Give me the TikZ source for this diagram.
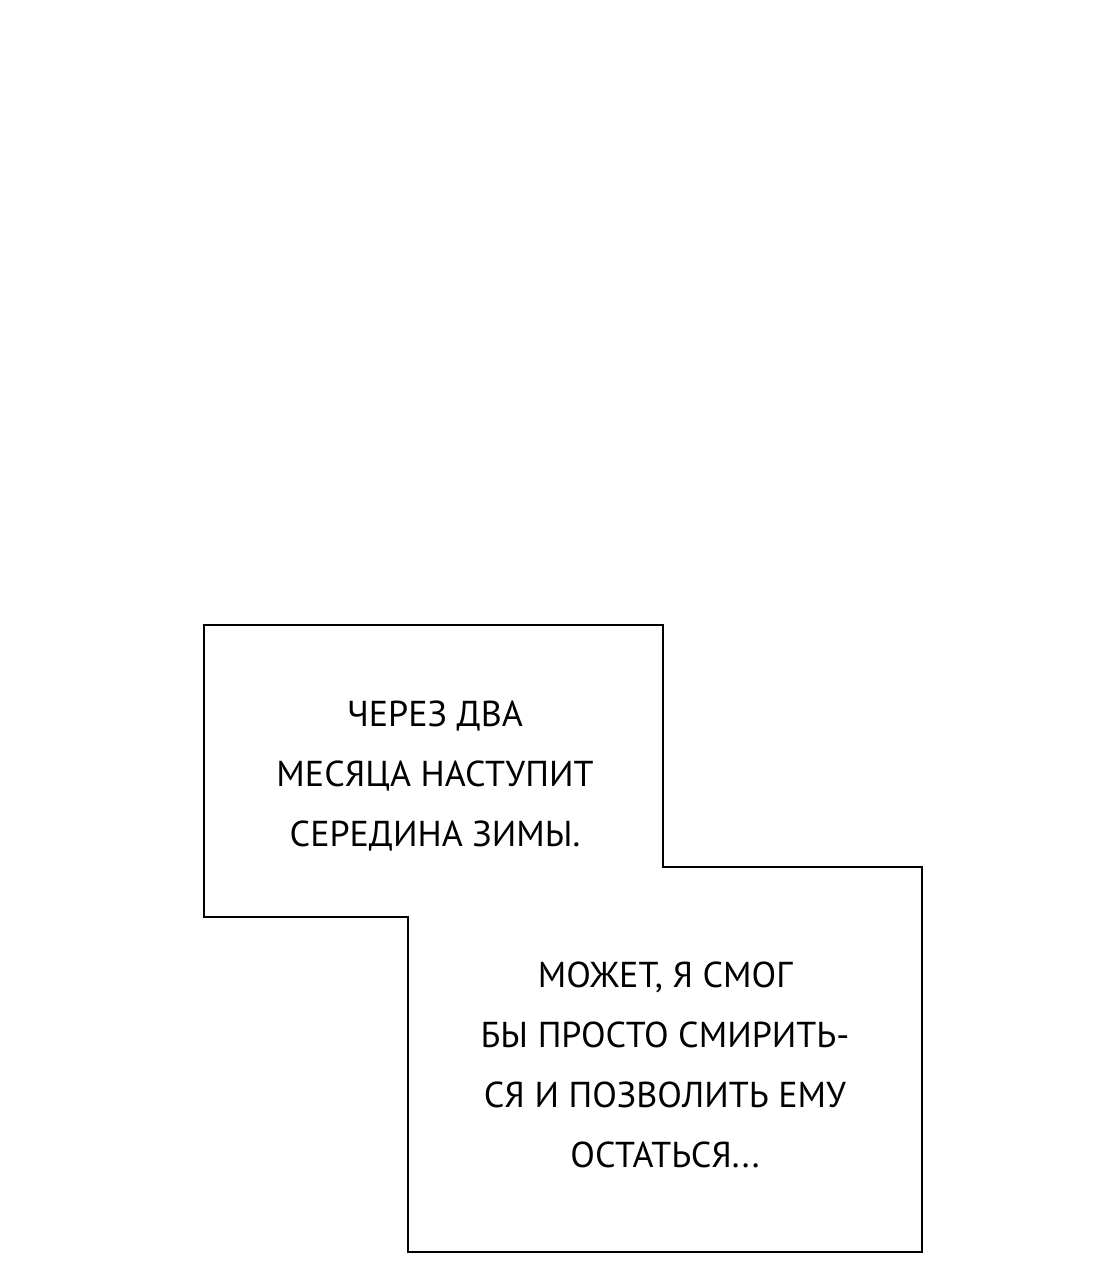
\documentclass[tikz,border=0pt]{standalone}
\usepackage{fontspec}
\setmainfont{PT Sans}
\begin{document}
\begin{tikzpicture}[x=1pt,y=-1pt,
  txt/.style={align=center,font=\fontsize{36}{60}\selectfont,inner sep=0pt}]
\useasboundingbox[fill=white] (0,0) rectangle (1100,1280);
\draw[line width=2.2pt,line join=miter] (204,625) -- (663,625) -- (663,867) -- (922,867) -- (922,1252) -- (408,1252) -- (408,917) -- (204,917) -- cycle;
\node[txt] (t1) at (435,776) {ЧЕРЕЗ ДВА\\МЕСЯЦА НАСТУПИТ\\СЕРЕДИНА ЗИМЫ.};
\node[txt] (t2) at (665,1065) {МОЖЕТ, Я СМОГ\\БЫ ПРОСТО СМИРИТЬ-\\СЯ И ПОЗВОЛИТЬ ЕМУ\\ОСТАТЬСЯ...};
\end{tikzpicture}
\end{document}
